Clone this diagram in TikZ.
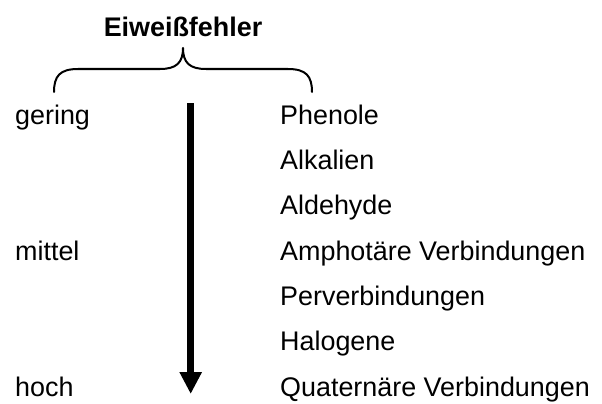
\documentclass[tikz,border=0pt]{standalone}
\usepackage{fontspec}
\setmainfont{Liberation Sans}
\usetikzlibrary{arrows.meta}
\tikzset{
  lbl/.style={anchor=base west, inner sep=0pt, font=\fontsize{26.9}{30}\selectfont},
  ttl/.style={anchor=base, inner sep=0pt, font=\fontsize{26.9}{30}\selectfont\bfseries},
  brace/.style={line width=2pt, line cap=round, line join=round},
  bigarrow/.style={line width=6.7pt, -{Triangle[width=21pt,length=22pt]}}
}
\begin{document}
\begin{tikzpicture}[x=1pt,y=-1pt]
\useasboundingbox (0,0) rectangle (602,404);
\node[ttl] (title) at (183,37) {Eiweißfehler};
\draw[brace] (54,92) .. controls (54,76) and (60,69) .. (78,69) -- (160,69)
  .. controls (176,69) and (183,63) .. (183,48)
  .. controls (183,63) and (190,69) .. (206,69) -- (288,69)
  .. controls (306,69) and (312,76) .. (312,92);
\coordinate (atop) at (190.7,103);
\coordinate (abot) at (190.7,394);
\draw[bigarrow] (atop) -- (abot);
\node[lbl] (gering) at (15,124) {gering};
\node[lbl] (mittel) at (15,260) {mittel};
\node[lbl] (hoch) at (15,396) {hoch};
\node[lbl] (r1) at (280,124) {Phenole};
\node[lbl] (r2) at (280,169.3) {Alkalien};
\node[lbl] (r3) at (280,214.6) {Aldehyde};
\node[lbl] (r4) at (280,260) {Amphotäre Verbindungen};
\node[lbl] (r5) at (280,305.3) {Perverbindungen};
\node[lbl] (r6) at (280,350.6) {Halogene};
\node[lbl] (r7) at (280,396) {Quaternäre Verbindungen};
\end{tikzpicture}
\end{document}
